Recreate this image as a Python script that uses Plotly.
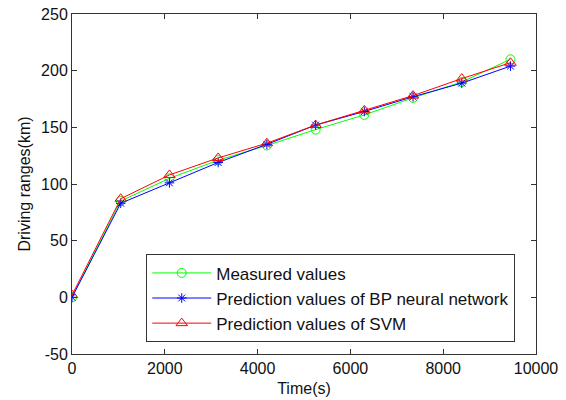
import plotly.graph_objects as go

# Sampling times (s)
time_s = [0, 1050, 2100, 3150, 4200, 5250, 6300, 7350, 8400, 9450]

# Driving ranges (km)
measured = [0, 85, 105, 121, 134, 148, 161, 176, 190, 210]
bp_pred = [0, 83, 101, 119, 135, 152, 164, 177, 189, 204]
svm_pred = [2, 87, 108, 123, 136, 152, 165, 178, 193, 207]

x_ticks = [0, 2000, 4000, 6000, 8000, 10000]
y_ticks = [-50, 0, 50, 100, 150, 200, 250]

series = [
    ("Measured values", measured, "#00ff00", "circle-open", 9),
    ("Prediction values of BP neural network", bp_pred, "#0000ff", "asterisk-open", 8),
    ("Prediction values of SVM", svm_pred, "#ff0000", "triangle-up-open", 10),
]

FONT = "Liberation Sans, Arial"

fig = go.Figure()
for i, (name, ys, color, symbol, size) in enumerate(series):
    fig.add_trace(go.Scatter(
        x=time_s, y=ys, name=name, mode="lines+markers", legendgroup=f"g{i}",
        line=dict(color=color, width=1),
        marker=dict(symbol=symbol, size=size, color=color,
                    line=dict(color=color, width=1)),
    ))

axis_common = dict(
    showgrid=False, zeroline=False, showline=True, mirror="ticks",
    linecolor="#333333", linewidth=1, ticks="inside", ticklen=5,
    tickcolor="#333333", tickfont=dict(family=FONT, size=16, color="#111111"),
    title_font=dict(family=FONT, size=16, color="#111111"),
    automargin=False,
)

fig.update_layout(
    width=566, height=400,
    margin=dict(l=72, r=30, t=14, b=46),
    paper_bgcolor="white", plot_bgcolor="white",
    xaxis=dict(range=[0, 10000], tickvals=x_ticks,
               ticktext=[str(v) for v in x_ticks],
               title=dict(text="Time(s)", standoff=6), **axis_common),
    yaxis=dict(range=[-50, 250], tickvals=y_ticks,
               ticktext=[str(v) for v in y_ticks],
               title=dict(text="Driving ranges(km)", standoff=6), **axis_common),
    legend=dict(x=0.16, y=0.293, xanchor="left", yanchor="top",
                bordercolor="#333333", borderwidth=1, bgcolor="white",
                font=dict(family=FONT, size=17, color="#111111"),
                tracegroupgap=0, itemwidth=59),
    showlegend=True,
)

fig.write_html("out.html")
